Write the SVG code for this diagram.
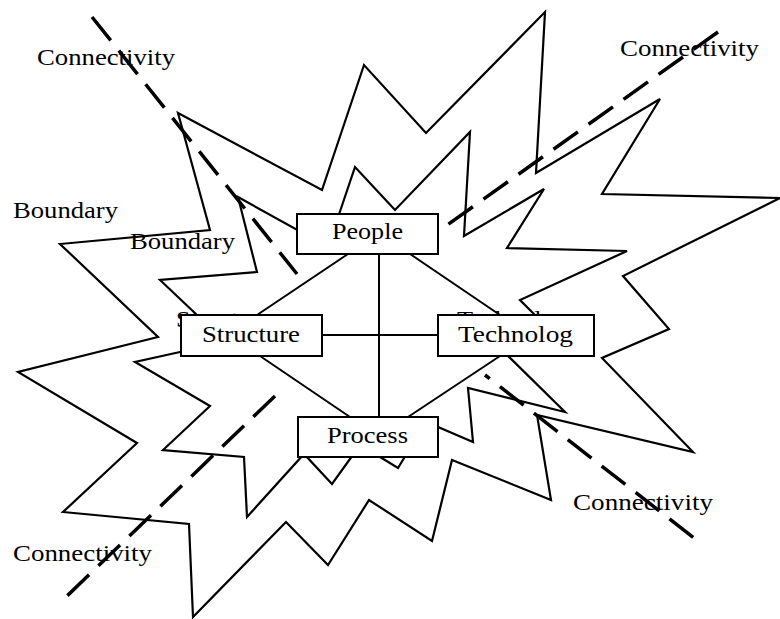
<svg xmlns="http://www.w3.org/2000/svg" width="780" height="619" viewBox="0 0 780 619">
<style>
.star{fill:none;stroke:#000;stroke-width:2.2;stroke-linejoin:miter}
.dash{fill:none;stroke:#000;stroke-width:3.5;stroke-dasharray:30 13}
.conn{fill:none;stroke:#000;stroke-width:2}
.box{fill:#fff;stroke:#000;stroke-width:2}
text{font-family:"Liberation Serif","Times New Roman",serif;font-size:24px;fill:#000}
</style>
<rect width="780" height="619" fill="#fff"/>
<g id="outer-star">
<polygon class="star" points="178,113 322,190 364,65 426,133 545,12 536,173 660,99 602,194 780,198 623,276 669,329 602,358 693,452 537,415 551,500 452,460 432,541 369,500 328,565 286,522 193,617 189,524 63,512 137,443 18,372 158,337 60,244 210,230"/>
</g>
<g id="inner-star">
<polygon class="star" points="238,197 328,247 355,167 395,210 470,132 464,236 544,189 507,248 627,251 520,300 540,320 500,348 565,412 468,388 473,442 438,427 415,440 398,468 380,457 360,445 332,484 304,454 247,517 244,457 163,450 210,406 135,362 180,352 225,342 197,315 160,280 257,272"/>
</g>
<g id="hidden-labels">
<text x="176" y="327" textLength="95" lengthAdjust="spacingAndGlyphs">Structure</text>
<text x="457" y="327" textLength="124" lengthAdjust="spacingAndGlyphs">Technology</text>
</g>
<g id="dashed-lines">
<line class="dash" x1="92" y1="17" x2="297" y2="274"/>
<line class="dash" x1="718" y1="32" x2="436" y2="233"/>
<line class="dash" x1="275" y1="396" x2="67" y2="596"/>
<line class="dash" x1="485" y1="375" x2="694" y2="538" style="stroke-dashoffset:24"/>
</g>
<g id="connectors">
<line class="conn" x1="348" y1="254" x2="257" y2="315"/>
<line class="conn" x1="410" y1="254" x2="500" y2="315"/>
<line class="conn" x1="379" y1="254" x2="379" y2="417"/>
<line class="conn" x1="322" y1="335" x2="438" y2="335"/>
<line class="conn" x1="260" y1="356" x2="350" y2="417"/>
<line class="conn" x1="500" y1="356" x2="408" y2="417"/>
</g>
<g id="node-people">
<rect class="box" x="297" y="214" width="141" height="40"/>
<text x="332" y="239" textLength="71" lengthAdjust="spacingAndGlyphs" style="font-size:23px">People</text>
</g>
<g id="node-structure">
<rect class="box" x="181" y="315" width="141" height="41"/>
<text x="202" y="342" textLength="98" lengthAdjust="spacingAndGlyphs">Structure</text>
</g>
<g id="node-technology">
<rect class="box" x="438" y="315" width="156" height="41"/>
<text x="458" y="342" textLength="115" lengthAdjust="spacingAndGlyphs">Technolog</text>
</g>
<g id="node-process">
<rect class="box" x="298" y="417" width="140" height="40"/>
<text x="327" y="443" textLength="81" lengthAdjust="spacingAndGlyphs">Process</text>
</g>
<g id="labels">
<text x="37" y="65" textLength="138" lengthAdjust="spacingAndGlyphs">Connectivity</text>
<text x="620" y="56" textLength="139" lengthAdjust="spacingAndGlyphs">Connectivity</text>
<text x="13" y="218" textLength="105" lengthAdjust="spacingAndGlyphs">Boundary</text>
<text x="130" y="249" textLength="105" lengthAdjust="spacingAndGlyphs">Boundary</text>
<text x="573" y="510" textLength="140" lengthAdjust="spacingAndGlyphs">Connectivity</text>
<text x="13" y="561" textLength="139" lengthAdjust="spacingAndGlyphs">Connectivity</text>
</g>
</svg>
